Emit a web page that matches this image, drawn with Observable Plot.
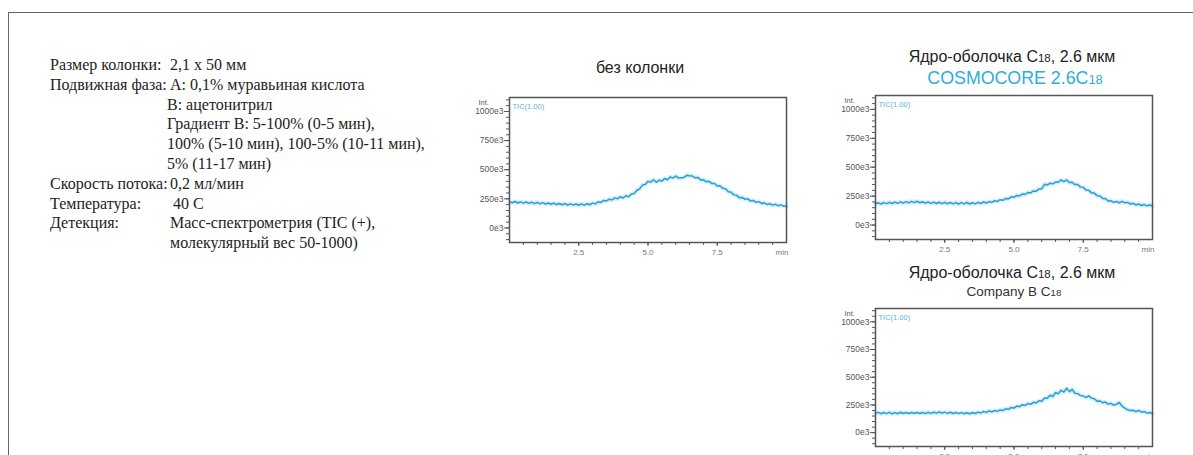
<!DOCTYPE html>
<html><head><meta charset="utf-8">
<script src="https://cdn.jsdelivr.net/npm/d3@7"></script>
<script src="https://cdn.jsdelivr.net/npm/@observablehq/plot@0.6"></script>
<style>
body{margin:0;background:#fff;}
#wrap{position:relative;width:1193px;height:455px;overflow:hidden;background:#fff;}
#border{position:absolute;left:8px;top:12px;width:1400px;height:600px;border-left:1.5px solid #666;border-top:1.5px solid #666;}
.t{position:absolute;white-space:nowrap;font-family:"Liberation Serif",serif;font-size:16px;color:#222;line-height:1;transform:translateY(-50%)}
.title{position:absolute;white-space:nowrap;font-family:"Liberation Sans",sans-serif;transform:translate(-50%,-50%);line-height:1;color:#222}
.sub{font-size:0.72em}
.plot{position:absolute}
</style></head>
<body><div id="wrap"><div id="border"></div></div>
<script>
// ---- data (intensity in units of 1e3 counts), time in min ----
const times = [0,0.1,0.2,0.3,0.4,0.5,0.6,0.7,0.8,0.9,1.0,1.1,1.2,1.3,1.4,1.5,1.6,1.7,1.8,1.9,2.0,2.1,2.2,2.3,2.4,2.5,2.6,2.7,2.8,2.9,3.0,3.1,3.2,3.3,3.4,3.5,3.6,3.7,3.8,3.9,4.0,4.1,4.2,4.3,4.4,4.5,4.6,4.7,4.8,4.9,5.0,5.1,5.2,5.3,5.4,5.5,5.6,5.7,5.8,5.9,6.0,6.1,6.2,6.3,6.4,6.5,6.6,6.7,6.8,6.9,7.0,7.1,7.2,7.3,7.4,7.5,7.6,7.7,7.8,7.9,8.0,8.1,8.2,8.3,8.4,8.5,8.6,8.7,8.8,8.9,9.0,9.1,9.2,9.3,9.4,9.5,9.6,9.7,9.8,9.9,10.0];
const noColumn = [226,216,227,214,224,213,223,211,221,209,219,207,217,205,214,203,213,201,210,199,209,197,207,196,206,195,207,196,208,199,213,207,224,219,236,232,247,241,258,250,268,257,276,268,292,296,324,336,368,374,400,394,414,392,410,402,424,414,438,428,446,428,432,434,452,448,446,430,434,412,414,396,400,382,382,360,362,340,336,310,306,284,280,260,262,246,250,232,236,220,226,210,216,202,208,196,203,191,198,186,188];
const cosmocore = [184,192,182,194,185,196,186,198,188,200,190,202,192,205,194,206,193,201,189,199,187,198,186,197,185,196,184,195,183,194,182,194,183,195,182,193,183,196,186,199,190,203,196,210,204,219,214,230,226,244,240,256,252,268,264,281,278,295,293,311,312,352,346,362,356,372,370,390,376,390,368,370,350,350,328,326,302,300,278,276,254,252,230,229,208,210,196,204,193,205,192,196,182,188,174,182,169,177,166,173,164];
const companyB = [176,183,171,182,172,183,170,181,171,184,173,181,173,182,175,182,173,181,172,183,174,184,176,186,177,185,174,184,173,182,172,181,171,180,170,180,173,185,178,190,183,195,188,200,192,205,200,215,210,227,222,240,234,252,245,262,256,274,268,288,284,312,310,338,326,362,350,382,366,400,370,390,356,352,334,330,318,332,310,306,284,286,270,276,258,264,248,256,272,240,222,206,200,202,190,200,185,190,176,182,172];
const yTicks = [0,250,500,750,1000];
const yMinorTicks = [-100,-50,0,50,100,150,200,250,300,350,400,450,500,550,600,650,700,750,800,850,900,950,1000,1050,1100];
const xTicks = [2.5,5.0,7.5];
const xTickLabels = ["2.5","5.0","7.5"];
const xMinorTicks = [0.5,1,1.5,2,2.5,3,3.5,4,4.5,5,5.5,6,6.5,7,7.5,8,8.5,9,9.5];

const wrap = document.getElementById("wrap");

function chart(values, frameH, left, top){
  const data = times.map((t,i)=>({t, v: values[i]}));
  const mL=40, mR=10, mT=20, mB=24;
  const p = Plot.plot({
    width: 277+mL+mR, height: frameH+mT+mB,
    marginLeft:mL, marginRight:mR, marginTop:mT, marginBottom:mB,
    x:{domain:[0,10], label:null},
    y:{domain:[-125,1120], label:null},
    style:{fontFamily:"Liberation Sans, sans-serif", fontSize:"8px", color:"#555", background:"transparent", overflow:"visible"},
    marks:[
      Plot.line(data,{x:"t",y:"v",stroke:"#c4e8f6",strokeWidth:4.5,strokeOpacity:0.7}),
      Plot.line(data,{x:"t",y:"v",stroke:"#2a9fd6",strokeWidth:1.5}),
      Plot.frame({stroke:"#555",strokeWidth:1.5}),
      Plot.axisY({ticks:yTicks, tickFormat:d=>d+"e3", tickSize:5, tickPadding:1, fontSize:8.5, stroke:"#555", fill:"#555"}),
      Plot.axisY({ticks:yMinorTicks, tickFormat:()=>"", tickSize:3, stroke:"#555"}),
      Plot.axisX({ticks:xTicks, tickFormat:d=>xTickLabels[xTicks.indexOf(d)], tickSize:4, tickPadding:3, fontSize:8, stroke:"#555", fill:"#777"}),
      Plot.axisX({ticks:xMinorTicks, tickFormat:()=>"", tickSize:3, stroke:"#555"}),
      Plot.text(["min"],{x:()=>10, text:d=>d, frameAnchor:"bottom", dy:12, dx:2, textAnchor:"end", fontSize:8, fill:"#777"}),
      Plot.text(["Int."],{text:d=>d, frameAnchor:"top-left", dx:-31, dy:2, textAnchor:"start", fontSize:7.5, fill:"#555"}),
      Plot.text(["TIC(1.00)"],{text:d=>d, frameAnchor:"top-left", dx:3, dy:6, textAnchor:"start", fontSize:7.5, fill:"#5ab2e0"})
    ]
  });
  p.classList.add("plot");
  p.style.left = (left-mL)+"px";
  p.style.top = (top-mT)+"px";
  wrap.appendChild(p);
}
chart(noColumn, 145, 509, 97);
chart(cosmocore, 144, 875, 95);
chart(companyB, 138, 875, 308);

function addText(cls, html, x, y, extra){
  const d = document.createElement("div");
  d.className = cls; d.innerHTML = html;
  d.style.left = x+"px"; d.style.top = y+"px";
  if (extra) Object.assign(d.style, extra);
  wrap.appendChild(d);
}
// conditions text block
const labels = [["Размер колонки:",0],["Подвижная фаза:",1],["Скорость потока:",6],["Температура:",7],["Детекция:",8]];
const values = [["2,1 x 50 мм",0,170],["А: 0,1% муравьиная кислота",1,170],["В: ацетонитрил",2,167],["Градиент В: 5-100% (0-5 мин),",3,167],["100% (5-10 мин), 100-5% (10-11 мин),",4,167],["5% (11-17 мин)",5,167],["0,2 мл/мин",6,170],["40 С",7,173],["Масс-спектрометрия (TIC (+),",8,170],["молекулярный вес 50-1000)",9,170]];
const y0 = 65, dy = 19.8;
labels.forEach(([s,i])=>addText("t", s, 50, y0+i*dy));
values.forEach(([s,i,x])=>addText("t", s, x, y0+i*dy));

// titles
addText("title","без колонки",640,68,{fontSize:"16px"});
addText("title","Ядро-оболочка C<span class='sub'>18</span>, 2.6 мкм",1012,57,{fontSize:"16px"});
addText("title","COSMOCORE 2.6C<span class='sub'>18</span>",1015,79,{fontSize:"17.8px",color:"#2eaed9"});
addText("title","Ядро-оболочка C<span class='sub'>18</span>, 2.6 мкм",1012,273,{fontSize:"16px"});
addText("title","Company B C<span class='sub'>18</span>",1014,292,{fontSize:"13.5px",color:"#333"});
</script>
</body></html>
